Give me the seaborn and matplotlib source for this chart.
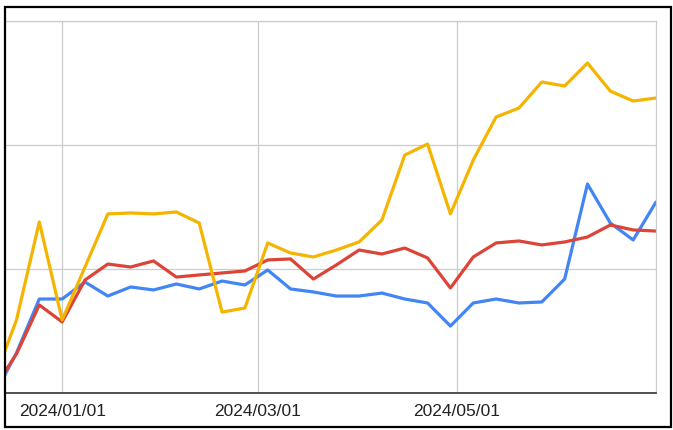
import matplotlib
matplotlib.use('Agg')
import matplotlib.pyplot as plt
import matplotlib.dates as mdates
from matplotlib.patches import Rectangle
import seaborn as sns
import pandas as pd

# weekly points, the first one is cut off by the left edge
dates = pd.date_range('2023-12-11', periods=30, freq='7D')

blue = [-2.4, 32.3, 75.8, 75.8, 89.5, 78.2, 85.5, 83.1, 87.9, 83.9,
        90.3, 87.1, 99.2, 83.9, 81.5, 78.2, 78.2, 80.6, 75.8, 72.6,
        54.0, 72.6, 75.8, 72.6, 73.4, 91.9, 168.5, 137.1, 123.4, 154.0]
red = [3.2, 31.5, 71.0, 57.3, 91.1, 104.0, 101.6, 106.5, 93.5, 95.2,
       96.8, 98.4, 107.3, 108.1, 91.9, 103.2, 115.3, 112.1, 116.9, 108.9,
       84.7, 109.7, 121.0, 122.6, 119.4, 121.8, 125.8, 135.5, 131.5, 130.6]
yellow = [9.7, 58.9, 137.9, 58.9, 101.6, 144.4, 145.2, 144.4, 146.0, 137.1,
          65.3, 68.5, 121.0, 112.9, 109.7, 115.3, 121.8, 139.5, 191.9, 200.8,
          144.4, 187.9, 222.6, 229.8, 250.8, 247.6, 266.1, 243.5, 235.5, 237.9]

series_names = ['blue', 'red', 'yellow']
colors = ['#4285F4', '#DB4437', '#F4B400']
tick_dates = ['2024-01-01', '2024-03-01', '2024-05-01']
tick_labels = ['2024/01/01', '2024/03/01', '2024/05/01']

df = pd.concat([
    pd.DataFrame({'date': dates, 'value': vals, 'series': name})
    for name, vals in zip(series_names, [blue, red, yellow])
])

sns.set_style('white')
plt.rcParams['font.family'] = ['Liberation Sans', 'DejaVu Sans']

fig = plt.figure(figsize=(6.73, 4.30), dpi=100)
ax = fig.add_axes([6 / 673, 37 / 430, 650 / 673, 372 / 430])

sns.lineplot(data=df, x='date', y='value', hue='series',
             palette=colors, linewidth=2.3, legend=False, ax=ax)

ax.set_xlim(pd.Timestamp('2023-12-14 19:00'), pd.Timestamp('2024-07-01'))
ax.set_ylim(0, 300)
ax.set_xticks(pd.to_datetime(tick_dates))
ax.set_xticklabels(tick_labels, fontsize=12.5, color='#222222')
ax.set_yticks([0, 100, 200, 300])
ax.set_yticklabels([])
ax.tick_params(axis='both', length=0)
ax.tick_params(axis='x', pad=8)
ax.grid(True, color='#cccccc', linewidth=0.9)
ax.set_axisbelow(True)
ax.set_xlabel('')
ax.set_ylabel('')

for side in ['top', 'right']:
    ax.spines[side].set_color('#cccccc')
    ax.spines[side].set_linewidth(0.9)
ax.spines['left'].set_visible(False)
ax.spines['bottom'].set_color('#333333')
ax.spines['bottom'].set_linewidth(1.2)

# black frame around the whole picture
fig.patches.append(Rectangle((5 / 673, 3 / 430), 666 / 673, 420 / 430,
                             transform=fig.transFigure, fill=False,
                             edgecolor='black', linewidth=1.6))

fig.savefig('out.png', dpi=100)
plt.close(fig)
